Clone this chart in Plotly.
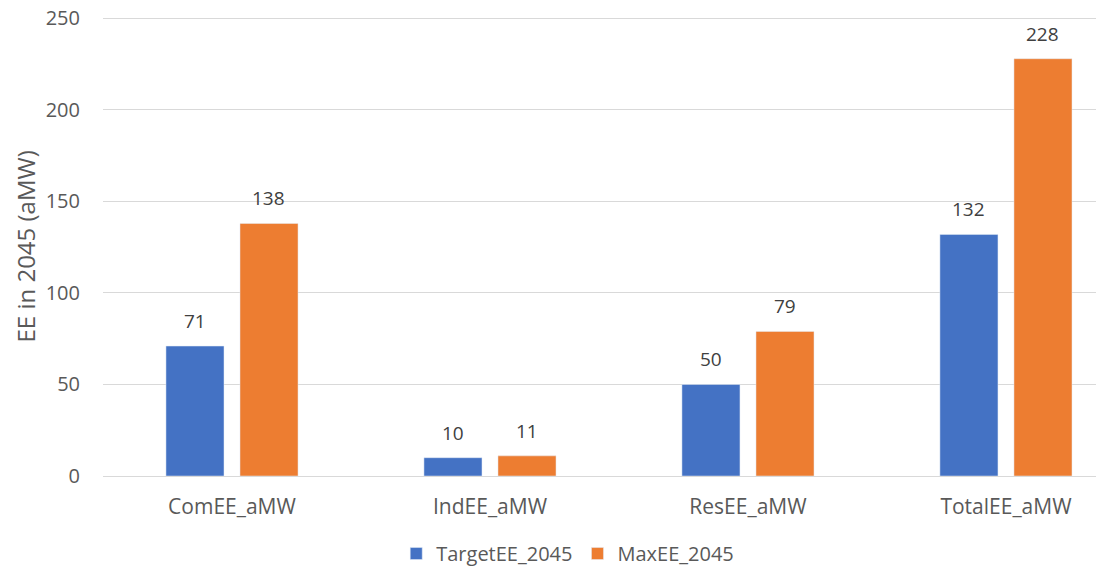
import plotly.graph_objects as go

categories = ["ComEE_aMW", "IndEE_aMW", "ResEE_aMW", "TotalEE_aMW"]
target_ee = [71, 10, 50, 132]
max_ee = [138, 11, 79, 228]
series_names = ["TargetEE_2045", "MaxEE_2045"]
y_ticks = [0, 50, 100, 150, 200, 250]
y_title = "EE in 2045 (aMW)"

BLUE = "#4472C4"
ORANGE = "#ED7D31"
TXT = "#595959"
FONT = "Open Sans"

fig = go.Figure()
fig.add_trace(go.Bar(x=categories, y=target_ee, name=series_names[0], marker_color=BLUE))
fig.add_trace(go.Bar(x=categories, y=max_ee, name=series_names[1], marker_color=ORANGE))

for vals, shift in ((target_ee, -37), (max_ee, 37)):
    for c, v in zip(categories, vals):
        fig.add_annotation(x=c, y=v, text=str(v), showarrow=False, xshift=shift,
                           yshift=25, font=dict(family=FONT, size=19, color="#404040"))

fig.add_annotation(text=y_title, xref="paper", yref="paper", x=0, y=0.5,
                   xanchor="center", yanchor="middle", xshift=-78, textangle=-90,
                   showarrow=False, font=dict(family=FONT, size=24, color=TXT))

fig.update_layout(
    width=1096, height=569,
    margin=dict(l=103, r=0, t=17, b=93, autoexpand=False),
    paper_bgcolor="white", plot_bgcolor="white",
    barmode="group", bargap=0.426, bargroupgap=0.216,
    font=dict(family=FONT, size=20, color=TXT),
    showlegend=True,
    legend=dict(orientation="h", x=0.468, xanchor="center", y=-0.1264, yanchor="top",
                font=dict(size=20, color=TXT), itemwidth=30),
    xaxis=dict(range=[-0.5, 3.349], showgrid=False, showline=True, linecolor="#D9D9D9",
               linewidth=1, ticks="", automargin=False, ticklabelstandoff=12,
               tickfont=dict(size=21, color=TXT)),
    yaxis=dict(range=[0, 250.8], tickvals=y_ticks, showgrid=True, gridcolor="#D9D9D9",
               gridwidth=1, zeroline=False, ticks="", automargin=False,
               ticklabeloverflow="allow",
               ticklabelstandoff=22, tickfont=dict(size=20, color=TXT)),
)

fig.write_html("out.html", config={"displayModeBar": False},
               post_script="document.body.style.margin='0';")
